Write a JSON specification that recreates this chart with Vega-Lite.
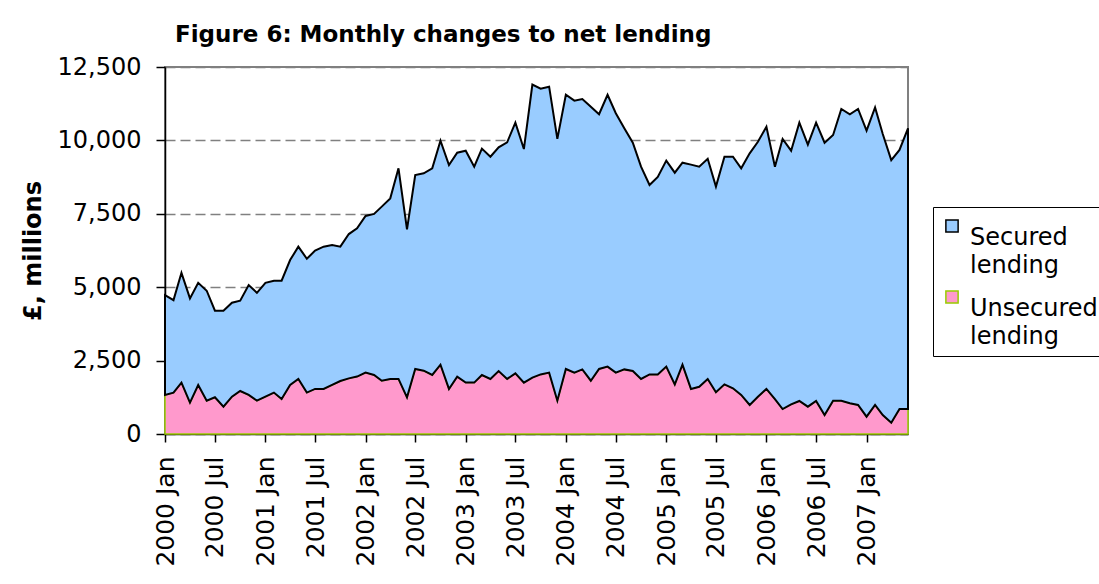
{
  "$schema": "https://vega.github.io/schema/vega-lite/v6.json",
  "autosize": "none",
  "width": 743,
  "height": 367,
  "padding": {"left": 165, "top": 67, "right": 191, "bottom": 150},
  "background": "white",
  "title": {
    "text": "Figure 6: Monthly changes to net lending",
    "anchor": "start",
    "frame": "group",
    "dx": 10,
    "dy": 37,
    "offset": 22,
    "baseline": "bottom",
    "font": "DejaVu Sans",
    "fontSize": 23,
    "fontWeight": "bold",
    "color": "black"
  },
  "data": {
    "values": [
      {"date": "2000/01/01", "Secured lending": 3400, "Unsecured lending": 1330},
      {"date": "2000/02/01", "Secured lending": 3150, "Unsecured lending": 1410},
      {"date": "2000/03/01", "Secured lending": 3740, "Unsecured lending": 1750},
      {"date": "2000/04/01", "Secured lending": 3550, "Unsecured lending": 1070},
      {"date": "2000/05/01", "Secured lending": 3480, "Unsecured lending": 1670},
      {"date": "2000/06/01", "Secured lending": 3745, "Unsecured lending": 1135},
      {"date": "2000/07/01", "Secured lending": 2950, "Unsecured lending": 1250},
      {"date": "2000/08/01", "Secured lending": 3270, "Unsecured lending": 930},
      {"date": "2000/09/01", "Secured lending": 3200, "Unsecured lending": 1270},
      {"date": "2000/10/01", "Secured lending": 3075, "Unsecured lending": 1465},
      {"date": "2000/11/01", "Secured lending": 3745, "Unsecured lending": 1330},
      {"date": "2000/12/01", "Secured lending": 3675, "Unsecured lending": 1135},
      {"date": "2001/01/01", "Secured lending": 3880, "Unsecured lending": 1270},
      {"date": "2001/02/01", "Secured lending": 3810, "Unsecured lending": 1410},
      {"date": "2001/03/01", "Secured lending": 4030, "Unsecured lending": 1190},
      {"date": "2001/04/01", "Secured lending": 4255, "Unsecured lending": 1670},
      {"date": "2001/05/01", "Secured lending": 4505, "Unsecured lending": 1875},
      {"date": "2001/06/01", "Secured lending": 4560, "Unsecured lending": 1410},
      {"date": "2001/07/01", "Secured lending": 4710, "Unsecured lending": 1535},
      {"date": "2001/08/01", "Secured lending": 4845, "Unsecured lending": 1535},
      {"date": "2001/09/01", "Secured lending": 4765, "Unsecured lending": 1670},
      {"date": "2001/10/01", "Secured lending": 4575, "Unsecured lending": 1805},
      {"date": "2001/11/01", "Secured lending": 4915, "Unsecured lending": 1895},
      {"date": "2001/12/01", "Secured lending": 5050, "Unsecured lending": 1955},
      {"date": "2002/01/01", "Secured lending": 5335, "Unsecured lending": 2090},
      {"date": "2002/02/01", "Secured lending": 5485, "Unsecured lending": 2010},
      {"date": "2002/03/01", "Secured lending": 5930, "Unsecured lending": 1815},
      {"date": "2002/04/01", "Secured lending": 6150, "Unsecured lending": 1875},
      {"date": "2002/05/01", "Secured lending": 7175, "Unsecured lending": 1875},
      {"date": "2002/06/01", "Secured lending": 5720, "Unsecured lending": 1250},
      {"date": "2002/07/01", "Secured lending": 6605, "Unsecured lending": 2215},
      {"date": "2002/08/01", "Secured lending": 6725, "Unsecured lending": 2155},
      {"date": "2002/09/01", "Secured lending": 7040, "Unsecured lending": 2010},
      {"date": "2002/10/01", "Secured lending": 7630, "Unsecured lending": 2360},
      {"date": "2002/11/01", "Secured lending": 7625, "Unsecured lending": 1535},
      {"date": "2002/12/01", "Secured lending": 7625, "Unsecured lending": 1955},
      {"date": "2003/01/01", "Secured lending": 7900, "Unsecured lending": 1750},
      {"date": "2003/02/01", "Secured lending": 7355, "Unsecured lending": 1750},
      {"date": "2003/03/01", "Secured lending": 7710, "Unsecured lending": 2010},
      {"date": "2003/04/01", "Secured lending": 7570, "Unsecured lending": 1875},
      {"date": "2003/05/01", "Secured lending": 7620, "Unsecured lending": 2145},
      {"date": "2003/06/01", "Secured lending": 8060, "Unsecured lending": 1875},
      {"date": "2003/07/01", "Secured lending": 8540, "Unsecured lending": 2065},
      {"date": "2003/08/01", "Secured lending": 7955, "Unsecured lending": 1750},
      {"date": "2003/09/01", "Secured lending": 9980, "Unsecured lending": 1920},
      {"date": "2003/10/01", "Secured lending": 9730, "Unsecured lending": 2030},
      {"date": "2003/11/01", "Secured lending": 9740, "Unsecured lending": 2090},
      {"date": "2003/12/01", "Secured lending": 8915, "Unsecured lending": 1135},
      {"date": "2004/01/01", "Secured lending": 9340, "Unsecured lending": 2215},
      {"date": "2004/02/01", "Secured lending": 9265, "Unsecured lending": 2090},
      {"date": "2004/03/01", "Secured lending": 9210, "Unsecured lending": 2200},
      {"date": "2004/04/01", "Secured lending": 9335, "Unsecured lending": 1815},
      {"date": "2004/05/01", "Secured lending": 8675, "Unsecured lending": 2215},
      {"date": "2004/06/01", "Secured lending": 9260, "Unsecured lending": 2295},
      {"date": "2004/07/01", "Secured lending": 8835, "Unsecured lending": 2090},
      {"date": "2004/08/01", "Secured lending": 8210, "Unsecured lending": 2200},
      {"date": "2004/09/01", "Secured lending": 7775, "Unsecured lending": 2145},
      {"date": "2004/10/01", "Secured lending": 7230, "Unsecured lending": 1875},
      {"date": "2004/11/01", "Secured lending": 6450, "Unsecured lending": 2030},
      {"date": "2004/12/01", "Secured lending": 6725, "Unsecured lending": 2030},
      {"date": "2005/01/01", "Secured lending": 7015, "Unsecured lending": 2295},
      {"date": "2005/02/01", "Secured lending": 7210, "Unsecured lending": 1690},
      {"date": "2005/03/01", "Secured lending": 6880, "Unsecured lending": 2360},
      {"date": "2005/04/01", "Secured lending": 7640, "Unsecured lending": 1535},
      {"date": "2005/05/01", "Secured lending": 7495, "Unsecured lending": 1610},
      {"date": "2005/06/01", "Secured lending": 7500, "Unsecured lending": 1875},
      {"date": "2005/07/01", "Secured lending": 7005, "Unsecured lending": 1420},
      {"date": "2005/08/01", "Secured lending": 7755, "Unsecured lending": 1690},
      {"date": "2005/09/01", "Secured lending": 7890, "Unsecured lending": 1555},
      {"date": "2005/10/01", "Secured lending": 7720, "Unsecured lending": 1330},
      {"date": "2005/11/01", "Secured lending": 8570, "Unsecured lending": 990},
      {"date": "2005/12/01", "Secured lending": 8685, "Unsecured lending": 1270},
      {"date": "2006/01/01", "Secured lending": 8930, "Unsecured lending": 1535},
      {"date": "2006/02/01", "Secured lending": 7915, "Unsecured lending": 1190},
      {"date": "2006/03/01", "Secured lending": 9200, "Unsecured lending": 850},
      {"date": "2006/04/01", "Secured lending": 8640, "Unsecured lending": 1010},
      {"date": "2006/05/01", "Secured lending": 9480, "Unsecured lending": 1125},
      {"date": "2006/06/01", "Secured lending": 8925, "Unsecured lending": 930},
      {"date": "2006/07/01", "Secured lending": 9480, "Unsecured lending": 1125},
      {"date": "2006/08/01", "Secured lending": 9275, "Unsecured lending": 645},
      {"date": "2006/09/01", "Secured lending": 9050, "Unsecured lending": 1135},
      {"date": "2006/10/01", "Secured lending": 9935, "Unsecured lending": 1135},
      {"date": "2006/11/01", "Secured lending": 9845, "Unsecured lending": 1045},
      {"date": "2006/12/01", "Secured lending": 10080, "Unsecured lending": 990},
      {"date": "2007/01/01", "Secured lending": 9740, "Unsecured lending": 590},
      {"date": "2007/02/01", "Secured lending": 10135, "Unsecured lending": 990},
      {"date": "2007/03/01", "Secured lending": 9575, "Unsecured lending": 645},
      {"date": "2007/04/01", "Secured lending": 8945, "Unsecured lending": 385},
      {"date": "2007/05/01", "Secured lending": 8825, "Unsecured lending": 850},
      {"date": "2007/06/01", "Secured lending": 9560, "Unsecured lending": 850}
    ]
  },
  "transform": [
    {"fold": ["Secured lending", "Unsecured lending"], "as": ["series", "value"]},
    {"stack": "value", "groupby": ["date"], "sort": [{"field": "series", "order": "descending"}], "as": ["y0", "y1"]}
  ],
  "encoding": {
    "x": {
      "field": "date",
      "type": "temporal",
      "scale": {"nice": false},
      "axis": {
        "title": null,
        "format": "%Y %b",
        "tickCount": {"interval": "month", "step": 6},
        "labelAngle": -90,
        "labelAlign": "right",
        "labelBaseline": "middle",
        "labelPadding": 14,
        "tickSize": 8,
        "grid": false,
        "domainColor": "black",
        "domainWidth": 1.5,
        "tickColor": "black",
        "tickWidth": 1.5,
        "labelFont": "DejaVu Sans",
        "labelFontSize": 25,
        "labelColor": "black",
        "labelOverlap": false
      }
    },
    "y": {
      "field": "y1",
      "type": "quantitative",
      "scale": {"domain": [0, 12500], "nice": false},
      "axis": {
        "title": "£, millions",
        "values": [0, 2500, 5000, 7500, 10000, 12500],
        "format": ",.0f",
        "grid": true,
        "gridDash": [10, 5],
        "gridColor": "#808080",
        "gridWidth": 1.5,
        "tickSize": 9,
        "labelPadding": 15,
        "domainColor": "black",
        "domainWidth": 1.5,
        "tickColor": "black",
        "tickWidth": 1.5,
        "labelFont": "DejaVu Sans",
        "labelFontSize": 24,
        "labelColor": "black",
        "titleFont": "DejaVu Sans",
        "titleFontSize": 24,
        "titleFontWeight": "bold",
        "titleColor": "black",
        "titlePadding": 12
      }
    },
    "y2": {"field": "y0"},
    "fill": {
      "field": "series",
      "type": "nominal",
      "scale": {"domain": ["Secured lending", "Unsecured lending"], "range": ["#99CCFF", "#FF99CC"]},
      "legend": {
        "title": null,
        "orient": "none",
        "legendX": 768,
        "legendY": 140,
        "symbolType": "square",
        "symbolSize": 150,
        "symbolStrokeWidth": 1.5,
        "labelExpr": "split(datum.label, ' ')",
        "labelFont": "DejaVu Sans",
        "labelFontSize": 24,
        "labelColor": "black",
        "labelBaseline": "top",
        "labelOffset": 6,
        "labelLimit": 300,
        "rowPadding": 7,
        "padding": 7,
        "strokeColor": "black",
        "fillColor": "white"
      }
    },
    "stroke": {
      "field": "series",
      "type": "nominal",
      "scale": {"domain": ["Secured lending", "Unsecured lending"], "range": ["black", "#99CC00"]},
      "legend": {
        "title": null,
        "orient": "none",
        "legendX": 768,
        "legendY": 140,
        "symbolType": "square",
        "symbolSize": 150,
        "symbolStrokeWidth": 1.5,
        "labelExpr": "split(datum.label, ' ')",
        "labelFont": "DejaVu Sans",
        "labelFontSize": 24,
        "labelColor": "black",
        "labelBaseline": "top",
        "labelOffset": 6,
        "labelLimit": 300,
        "rowPadding": 7,
        "padding": 7,
        "strokeColor": "black",
        "fillColor": "white"
      }
    }
  },
  "layer": [
    {
      "transform": [{"filter": "datum.series == 'Unsecured lending'"}],
      "mark": {"type": "area", "strokeWidth": 1.5, "strokeJoin": "miter"}
    },
    {
      "transform": [{"filter": "datum.series == 'Secured lending'"}],
      "mark": {"type": "area", "strokeWidth": 2, "strokeJoin": "miter"}
    }
  ],
  "config": {
    "view": {"stroke": "#808080", "strokeWidth": 2},
    "style": {"guide-label": {"lineHeight": 28}}
  }
}
